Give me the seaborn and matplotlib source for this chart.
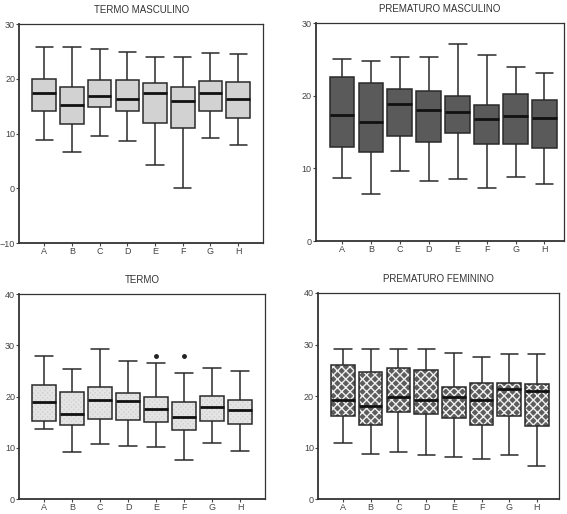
import pandas as pd
import seaborn as sns
import matplotlib.pyplot as plt
import matplotlib.colors as mcolors

# ================== dados ==================
grupos = list("ABCDEFGH")

# cada linha: mínimo, Q1, mediana, Q3, máximo
termo_masculino = [
    [8.9, 14.2, 17.5, 20.0, 25.9],
    [6.6, 11.8, 15.3, 18.5, 25.9],
    [9.5, 14.9, 16.9, 19.8, 25.4],
    [8.7, 14.2, 16.4, 19.8, 25.0],
    [4.2, 11.9, 17.5, 19.3, 24.0],
    [0.1, 11.1, 15.9, 18.6, 24.0],
    [9.2, 14.1, 17.4, 19.6, 24.7],
    [7.9, 12.9, 16.4, 19.4, 24.5],
]

prematuro_masculino = [
    [8.7, 13.0, 17.4, 22.6, 25.0],
    [6.5, 12.2, 16.4, 21.7, 24.8],
    [9.7, 14.4, 18.8, 21.0, 25.3],
    [8.2, 13.6, 18.1, 20.6, 25.3],
    [8.5, 14.9, 17.8, 20.0, 27.1],
    [7.3, 13.3, 16.8, 18.7, 25.6],
    [8.8, 13.3, 17.2, 20.2, 24.0],
    [7.8, 12.8, 17.0, 19.4, 23.1],
]

termo = [
    [13.6, 15.3, 19.0, 22.3, 28.0],
    [9.2, 14.5, 16.6, 20.9, 25.3],
    [10.8, 15.6, 19.4, 21.8, 29.3],
    [10.4, 15.4, 19.1, 20.7, 27.0],
    [10.1, 15.0, 17.5, 20.0, 26.6],
    [7.7, 13.4, 16.1, 18.9, 24.6],
    [10.9, 15.2, 17.9, 20.1, 25.5],
    [9.4, 14.7, 17.4, 19.4, 24.9],
]
termo_outliers = {"E": [28.0], "F": [28.0]}

prematuro_feminino = [
    [10.8, 16.1, 19.3, 26.1, 29.2],
    [8.7, 14.3, 18.0, 24.6, 29.2],
    [9.2, 16.9, 19.8, 25.5, 29.2],
    [8.5, 16.6, 19.2, 25.0, 29.1],
    [8.2, 15.7, 19.8, 21.8, 28.3],
    [7.8, 14.4, 19.3, 22.5, 27.6],
    [8.5, 16.1, 21.3, 22.6, 28.2],
    [6.5, 14.1, 21.0, 22.4, 28.1],
]
# ============================================================


def montar(stats, outliers=None):
    # monta uma amostra cujos quartis batem com os valores lidos
    outliers = outliers or {}
    linhas = []
    for g, (lo, q1, med, q3, hi) in zip(grupos, stats):
        extra = outliers.get(g, [])
        if extra:
            vals = [lo, q1, q1, med, med, q3, q3, hi] + extra
        else:
            vals = [lo, q1, med, q3, hi]
        linhas += [(g, v) for v in vals]
    return pd.DataFrame(linhas, columns=["grupo", "valor"])


sns.set_style("ticks")
plt.rcParams['font.family'] = ['Liberation Sans', 'DejaVu Sans']
plt.rcParams['hatch.linewidth'] = 1.0

fig = plt.figure(figsize=(5.67, 5.14), dpi=100)


def painel(rect, df, titulo, cor, ylim, yticks, xlim, hatch=None, hatch_cor=None, hatch_lw=1.0):
    ax = fig.add_axes(rect)
    sns.boxplot(
        data=df, x="grupo", y="valor", order=grupos, ax=ax,
        color=cor, saturation=1, width=0.85,
        linecolor="#2a2a2a", linewidth=1.1,
        medianprops=dict(color="#111111", linewidth=2.0),
        flierprops=dict(marker="o", markersize=2.5,
                        markerfacecolor="#222222", markeredgecolor="#222222"),
        capwidths=0.62,
    )
    if hatch:
        for p in ax.patches:
            p.set_hatch(hatch)
            p._hatch_color = mcolors.to_rgba(hatch_cor)
            if hasattr(p, "set_hatch_linewidth"):
                p.set_hatch_linewidth(hatch_lw)
            else:
                p._hatch_linewidth = hatch_lw
    ax.set_xlim(*xlim)
    ax.set_ylim(*ylim)
    ax.set_yticks(yticks)
    ax.set_xlabel("")
    ax.set_ylabel("")
    ax.set_title(titulo, fontsize=7, pad=8, color="#333333")
    ax.tick_params(labelsize=6.5, colors="#444444", length=2, width=0.8, pad=1)
    for s in ax.spines.values():
        s.set_visible(True)
        s.set_color("#333333")
        s.set_linewidth(0.9)
    ax.spines["left"].set_linewidth(1.3)
    ax.spines["bottom"].set_linewidth(1.3)
    return ax


painel([0.034, 0.527, 0.430, 0.426], montar(termo_masculino), "TERMO MASCULINO",
       "#d2d2d2", (-10, 30), [-10, 0, 10, 20, 30], (-0.9, 7.9))
painel([0.557, 0.531, 0.437, 0.424], montar(prematuro_masculino), "PREMATURO MASCULINO",
       "#5a5a5a", (0, 30), [0, 10, 20, 30], (-0.9, 7.66))
painel([0.034, 0.029, 0.433, 0.399], montar(termo, termo_outliers), "TERMO",
       "#d0d0d0", (0, 40), [0, 10, 20, 30, 40], (-0.88, 7.88),
       hatch="xxxxxxx", hatch_cor="#e4e4e4", hatch_lw=1.3)
painel([0.561, 0.029, 0.425, 0.401], montar(prematuro_feminino), "PREMATURO FEMININO",
       "#5c5c5c", (0, 40), [0, 10, 20, 30, 40], (-0.9, 7.8),
       hatch="xxxx", hatch_cor="#f0f0f0", hatch_lw=1.0)

plt.savefig("out.png", dpi=100)
